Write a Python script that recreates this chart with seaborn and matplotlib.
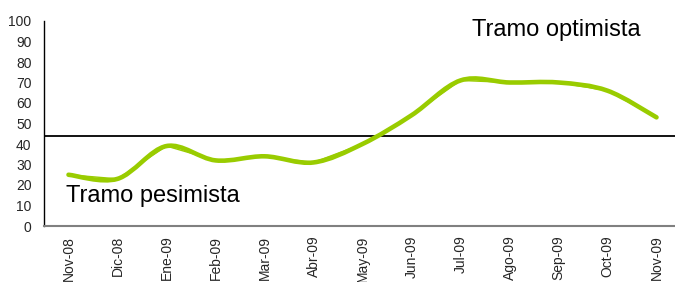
import matplotlib
matplotlib.use("Agg")
import matplotlib.pyplot as plt
from matplotlib.path import Path
from matplotlib.patches import PathPatch
import seaborn as sns
import numpy as np
import pandas as pd

categories = ["Nov-08", "Dic-08", "Ene-09", "Feb-09", "Mar-09", "Abr-09", "May-09",
              "Jun-09", "Jul-09", "Ago-09", "Sep-09", "Oct-09", "Nov-09"]
values = [25, 23, 39, 32, 34, 31, 40, 54, 71, 70, 70, 66, 53]
threshold = 43.9
yticks = [0, 10, 20, 30, 40, 50, 60, 70, 80, 90, 100]
label_low = "Tramo pesimista"
label_high = "Tramo optimista"

sns.set_style("white")
plt.rcParams["font.family"] = ["Liberation Sans", "DejaVu Sans"]

green = "#99CC00"
df = pd.DataFrame({"mes": categories, "valor": values})
df["pos"] = np.arange(len(categories))

fig = plt.figure(figsize=(6.75, 2.82), dpi=100)
ax = fig.add_axes([44 / 675, 56 / 282, 637 / 675, 205 / 282])

# thin underlying series (seaborn), covered by the smoothed stroke
sns.lineplot(data=df, x="pos", y="valor", ax=ax, color=green, linewidth=1.0)

# smoothed rendering of the same points (Catmull-Rom as cubic Bezier)
pts = df[["pos", "valor"]].to_numpy(dtype=float)
n = len(pts)
verts = [tuple(pts[0])]
codes = [Path.MOVETO]
for i in range(n - 1):
    p0 = pts[max(i - 1, 0)]
    p1 = pts[i]
    p2 = pts[i + 1]
    p3 = pts[min(i + 2, n - 1)]
    c1 = p1 + (p2 - p0) / 6.0
    c2 = p2 - (p3 - p1) / 6.0
    verts += [tuple(c1), tuple(c2), tuple(p2)]
    codes += [Path.CURVE4] * 3
patch = PathPatch(Path(verts, codes), facecolor="none", edgecolor=green,
                  linewidth=3.3, capstyle="round", joinstyle="round", zorder=3)
ax.add_patch(patch)

ax.axhline(threshold, color="black", linewidth=1.3, zorder=2)

ax.text(-0.05, 11.7, label_low, fontsize=17, color="black", ha="left", va="baseline")
ax.text(8.23, 92.6, label_high, fontsize=17, color="black", ha="left", va="baseline")

ax.set_xlim(-0.5, len(categories) - 0.5)
ax.set_ylim(0, 100)
ax.set_yticks(yticks)
ax.set_yticklabels([str(t) for t in yticks], fontsize=10)
ax.set_xticks(np.arange(len(categories)))
ax.set_xticklabels(categories, rotation=90, fontsize=10, va="top")
ax.set_xticks(np.arange(len(categories) + 1) - 0.5, minor=True)
ax.tick_params(axis="x", which="major", length=0, pad=7)
ax.tick_params(axis="x", which="minor", length=5, width=1, color="#606060", direction="out")
ax.tick_params(axis="y", which="major", length=5, width=1, color="black", direction="out", pad=4)
ax.set_xlabel("")
ax.set_ylabel("")

for s in ["top", "right"]:
    ax.spines[s].set_visible(False)
ax.spines["left"].set_color("black")
ax.spines["left"].set_linewidth(1.0)
ax.spines["bottom"].set_color("#808080")
ax.spines["bottom"].set_linewidth(1.5)

fig.savefig("out.png", dpi=100)
